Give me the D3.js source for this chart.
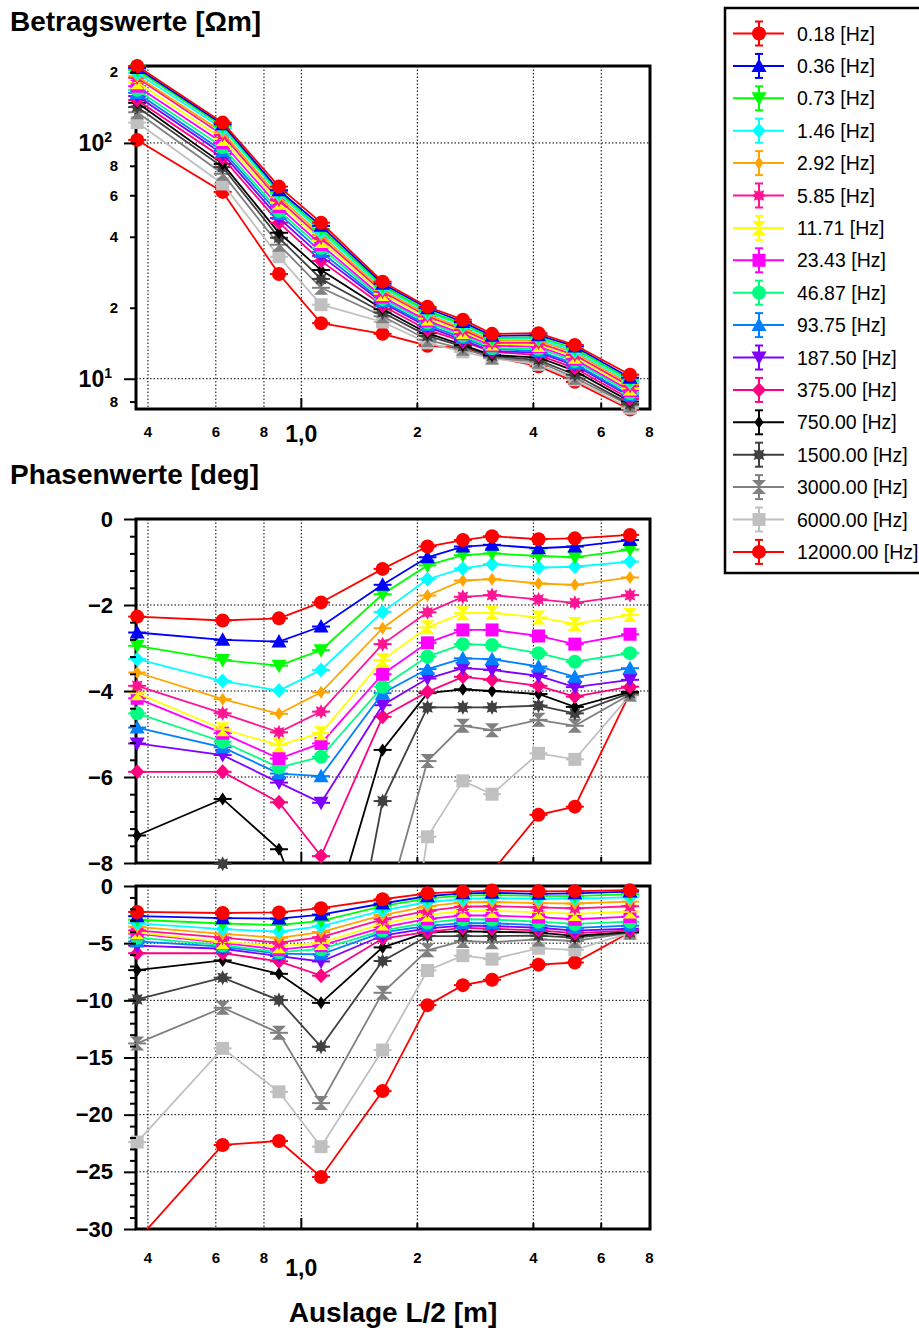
<!DOCTYPE html>
<html>
<head>
<meta charset="utf-8">
<script src="https://cdn.jsdelivr.net/npm/d3@7"></script>
<style>
  body { margin: 0; background: #fff; }
  svg { display: block; }
  text { font-family: Arial, "Liberation Sans", sans-serif; }
</style>
</head>
<body>
<svg id="chart" width="919" height="1331"></svg>
<script>
// Half spread L/2 [m] of each sounding point
const spacing = [0.375, 0.625, 0.875, 1.125, 1.625, 2.125, 2.625, 3.125, 4.125, 5.125, 7.125];

// Frequencies shown in the legend
const frequencies = ["0.18", "0.36", "0.73", "1.46", "2.92", "5.85", "11.71", "23.43", "46.87",
  "93.75", "187.50", "375.00", "750.00", "1500.00", "3000.00", "6000.00", "12000.00"];

// Apparent resistivity magnitude [Ohm m] per frequency
const rho_0_18   = [212, 122, 65.3, 45.9, 25.8, 20.2, 17.8, 15.5, 15.6, 13.9, 10.4];
const rho_0_36   = [208, 120, 63.0, 44.5, 25.3, 19.9, 17.4, 15.2, 15.3, 13.7, 10.1];
const rho_0_73   = [204, 118, 62.0, 43.2, 24.8, 19.4, 17.1, 14.9, 15.0, 13.4, 9.9];
const rho_1_46   = [198, 115, 60.8, 42.0, 24.3, 19.1, 16.8, 14.8, 14.8, 13.1, 9.7];
const rho_2_92   = [192, 111, 59.0, 40.7, 23.8, 18.7, 16.4, 14.5, 14.5, 12.9, 9.5];
const rho_5_85   = [189, 108, 57.3, 39.6, 23.4, 18.4, 16.1, 14.2, 14.2, 12.6, 9.3];
const rho_11_71  = [181, 104, 55.7, 38.4, 22.9, 18.0, 15.8, 14.1, 13.9, 12.4, 9.1];
const rho_23_43  = [174, 100, 53.6, 37.0, 22.2, 17.6, 15.5, 13.8, 13.7, 12.1, 8.9];
const rho_46_87  = [168, 96, 51.5, 35.9, 21.8, 17.3, 15.2, 13.5, 13.4, 11.9, 8.7];
const rho_93_75  = [163, 92.5, 50.0, 34.5, 21.3, 16.9, 14.9, 13.4, 13.1, 11.6, 8.5];
const rho_187_5  = [158, 89.8, 48.0, 33.2, 21.0, 16.6, 14.6, 13.1, 12.9, 11.4, 8.4];
const rho_375    = [152, 86.4, 45.9, 31.6, 20.4, 16.1, 14.4, 13.0, 12.6, 11.1, 8.2];
const rho_750    = [148, 81.5, 41.6, 28.9, 19.7, 15.6, 13.9, 12.6, 12.3, 10.8, 8.0];
const rho_1500   = [142, 79, 39.6, 26.5, 19.1, 15.2, 13.7, 12.5, 12.0, 10.4, 7.8];
const rho_3000   = [135, 74, 37.0, 24.3, 18.4, 14.6, 13.4, 12.3, 11.8, 10.1, 7.7];
const rho_6000   = [122, 67, 32.9, 20.6, 17.4, 14.2, 13.0, 12.2, 11.5, 9.9, 7.5];
const rho_12000  = [103, 62, 27.8, 17.2, 15.5, 13.8, 13.5, 12.4, 11.3, 9.7, 7.4];

// Phase [deg] per frequency
const phi_0_18   = [-2.27, -2.36, -2.31, -1.94, -1.16, -0.64, -0.49, -0.40, -0.47, -0.45, -0.37];
const phi_0_36   = [-2.64, -2.81, -2.85, -2.50, -1.53, -0.89, -0.64, -0.60, -0.68, -0.64, -0.49];
const phi_0_73   = [-2.95, -3.28, -3.41, -3.05, -1.75, -1.08, -0.84, -0.80, -0.86, -0.89, -0.71];
const phi_1_46   = [-3.26, -3.77, -3.99, -3.51, -2.16, -1.40, -1.15, -1.05, -1.13, -1.11, -0.99];
const phi_2_92   = [-3.57, -4.19, -4.53, -4.03, -2.54, -1.78, -1.43, -1.40, -1.50, -1.53, -1.36];
const phi_5_85   = [-3.88, -4.52, -4.96, -4.48, -2.91, -2.17, -1.81, -1.77, -1.87, -1.95, -1.77];
const phi_11_71  = [-4.05, -4.89, -5.26, -4.98, -3.28, -2.52, -2.19, -2.18, -2.29, -2.44, -2.23];
const phi_23_43  = [-4.17, -4.98, -5.57, -5.22, -3.61, -2.88, -2.58, -2.58, -2.72, -2.91, -2.68];
const phi_46_87  = [-4.52, -5.18, -5.78, -5.53, -3.90, -3.20, -2.91, -2.93, -3.12, -3.32, -3.12];
const phi_93_75  = [-4.85, -5.31, -5.92, -5.98, -4.05, -3.49, -3.24, -3.26, -3.43, -3.67, -3.47];
const phi_187_5  = [-5.22, -5.49, -6.13, -6.60, -4.33, -3.71, -3.47, -3.51, -3.65, -3.91, -3.74];
const phi_375    = [-5.88, -5.88, -6.59, -7.84, -4.60, -4.02, -3.67, -3.74, -3.88, -4.13, -3.90];
const phi_750    = [-7.36, -6.51, -7.68, -10.22, -5.37, -4.05, -3.96, -4.00, -4.07, -4.37, -4.02];
const phi_1500   = [-9.92, -8.02, -9.98, -14.06, -6.56, -4.38, -4.38, -4.38, -4.34, -4.52, -4.05];
const phi_3000   = [-13.77, -10.65, -12.84, -18.99, -9.34, -5.63, -4.81, -4.91, -4.67, -4.81, -4.08];
const phi_6000   = [-22.4, -14.2, -18.0, -22.8, -14.35, -7.39, -6.09, -6.40, -5.45, -5.59, -4.10];
const phi_12000  = [-31.0, -22.65, -22.3, -25.45, -17.94, -10.42, -8.67, -8.2, -6.88, -6.69, -4.05];

// Axis ticks and their labels
const xTickValues = [0.4, 0.6, 0.8, 1, 2, 4, 6, 8];
const xTickLabels = ["4", "6", "8", "1,0", "2", "4", "6", "8"];
const xGridValues = [0.4, 0.6, 0.8, 1, 2, 4, 6];
const rhoMajorTicks = [10, 100];
const rhoMinorTicks = [8, 20, 40, 60, 80, 200];
const rhoMinorLabels = ["8", "2", "4", "6", "8", "2"];
const phiZoomTicks = [0, -2, -4, -6, -8];
const phiFullTicks = [0, -5, -10, -15, -20, -25, -30];

const rhoSeries = [rho_0_18, rho_0_36, rho_0_73, rho_1_46, rho_2_92, rho_5_85, rho_11_71, rho_23_43,
  rho_46_87, rho_93_75, rho_187_5, rho_375, rho_750, rho_1500, rho_3000, rho_6000, rho_12000];
const phiSeries = [phi_0_18, phi_0_36, phi_0_73, phi_1_46, phi_2_92, phi_5_85, phi_11_71, phi_23_43,
  phi_46_87, phi_93_75, phi_187_5, phi_375, phi_750, phi_1500, phi_3000, phi_6000, phi_12000];

const colors = ["#FF0000", "#0000FF", "#00FF00", "#00FFFF", "#FFA500", "#FF1493", "#FFFF00", "#FF00FF",
  "#00FF80", "#0080FF", "#8000FF", "#FF0080", "#000000", "#404040", "#808080", "#C0C0C0", "#FF0000"];
const shapes = ["circle", "triUp", "triDown", "diamond", "smallDiamond", "star", "hourglass", "square",
  "circle", "triUp", "triDown", "diamond", "smallDiamond", "star", "hourglass", "square", "circle"];

// ---------------------------------------------------------------------------
const svg = d3.select("#chart");
const X0 = 136, X1 = 650;
const x = d3.scaleLog().domain([0.3724, 8.03]).range([X0, X1]);

function markerPath(shape) {
  switch (shape) {
    case "circle": return "M7,0A7,7 0 1 1 -7,0A7,7 0 1 1 7,0Z";
    case "triUp": return "M0,-7.5L7.5,6L-7.5,6Z";
    case "triDown": return "M0,7.5L7.5,-6L-7.5,-6Z";
    case "diamond": return "M0,-7.5L7,0L0,7.5L-7,0Z";
    case "smallDiamond": return "M0,-6.5L4.5,0L0,6.5L-4.5,0Z";
    case "square": return "M-6.5,-6.5H6.5V6.5H-6.5Z";
    case "hourglass": return "M-7,-7H7L0,0L7,7H-7L0,0Z";
    case "star": {
      const pts = d3.range(16).map(i => {
        const a = i * Math.PI / 8 - Math.PI / 2;
        const r = i % 2 === 0 ? 7.5 : 4.4;
        return [r * Math.cos(a), r * Math.sin(a)];
      });
      return "M" + pts.map(p => p[0].toFixed(2) + "," + p[1].toFixed(2)).join("L") + "Z";
    }
  }
}

function drawPanel(cfg) {
  const { y, top, bottom, hGrid, id } = cfg;
  const g = svg.append("g");

  // dotted grid
  g.selectAll(".vgrid").data(xGridValues).join("line")
    .attr("x1", d => x(d)).attr("x2", d => x(d)).attr("y1", top).attr("y2", bottom)
    .attr("stroke", "#000").attr("stroke-width", 1).attr("stroke-dasharray", "1.5,2");
  g.selectAll(".hgrid").data(hGrid).join("line")
    .attr("x1", X0).attr("x2", X1).attr("y1", d => y(d)).attr("y2", d => y(d))
    .attr("stroke", "#000").attr("stroke-width", 1).attr("stroke-dasharray", "1.5,2");

  // inward ticks on the bottom axis
  g.selectAll(".xtick").data([1, 2, 4, 6]).join("line")
    .attr("x1", d => x(d)).attr("x2", d => x(d)).attr("y1", bottom)
    .attr("y2", d => bottom - (d === 1 ? 11 : 6))
    .attr("stroke", "#000").attr("stroke-width", 2);

  // frame
  g.append("rect").attr("x", X0).attr("y", top).attr("width", X1 - X0).attr("height", bottom - top)
    .attr("fill", "none").attr("stroke", "#000").attr("stroke-width", 3);

  // clip for the lines
  svg.append("clipPath").attr("id", id).append("rect")
    .attr("x", X0 - 20).attr("y", top).attr("width", X1 - X0 + 40).attr("height", bottom - top);

  const line = d3.line().x(d => x(d[0])).y(d => y(d[1]));
  const data = cfg.series;
  const seriesG = g.append("g");
  // lower frequencies are painted last so they sit on top
  for (let i = data.length - 1; i >= 0; i--) {
    const pts = spacing.map((s, k) => [s, data[i][k]]);
    const sg = seriesG.append("g");
    sg.append("path").attr("d", line(pts)).attr("fill", "none")
      .attr("stroke", colors[i]).attr("stroke-width", 1.8).attr("clip-path", `url(#${id})`);
    const vis = pts.filter(p => y(p[1]) >= top - 4 && y(p[1]) <= bottom + 4);
    const mg = sg.selectAll("g.m").data(vis).join("g")
      .attr("transform", p => `translate(${x(p[0])},${y(p[1])})`);
    mg.append("line").attr("x1", -9).attr("x2", 9).attr("stroke", colors[i]).attr("stroke-width", 2);
    mg.append("path").attr("d", markerPath(shapes[i])).attr("fill", colors[i]);
  }
  return g;
}

function styleAxis(a, size) {
  a.select(".domain").remove();
  a.selectAll(".tick line").attr("stroke", "#000").attr("stroke-width", 2);
  a.selectAll(".tick text").attr("fill", "#000").attr("font-weight", "bold").attr("font-size", size);
}

// ---------------- resistivity panel ----------------
const yRho = d3.scaleLog().domain([7.44, 212]).range([409, 66]);
drawPanel({ y: yRho, top: 66, bottom: 409, hGrid: [10, 100], id: "clipRho", series: rhoSeries });

const rhoMajor = svg.append("g").attr("transform", `translate(${X0},0)`)
  .call(d3.axisLeft(yRho).tickValues(rhoMajorTicks).tickSize(12).tickPadding(12).tickFormat(() => ""));
styleAxis(rhoMajor, 23);
rhoMajor.selectAll(".tick text").each(function (d) {
  const t = d3.select(this);
  t.append("tspan").text("10");
  t.append("tspan").attr("dy", -9).attr("font-size", 14).text(Math.round(Math.log10(d)));
});
const rhoMinor = svg.append("g").attr("transform", `translate(${X0},0)`)
  .call(d3.axisLeft(yRho).tickValues(rhoMinorTicks).tickSize(6).tickPadding(12)
    .tickFormat((d, i) => rhoMinorLabels[i]));
styleAxis(rhoMinor, 15);

function xLabels(baseSmall, baseBig) {
  svg.append("g").selectAll("text").data(xTickValues).join("text")
    .attr("x", d => x(d)).attr("y", (d, i) => xTickLabels[i] === "1,0" ? baseBig : baseSmall)
    .attr("text-anchor", "middle").attr("font-weight", "bold")
    .attr("font-size", (d, i) => xTickLabels[i] === "1,0" ? 23 : 15)
    .text((d, i) => xTickLabels[i]);
}
xLabels(437, 442);

// ---------------- phase panel, zoomed ----------------
const yPhiZoom = d3.scaleLinear().domain([-8, 0]).range([863, 519]);
drawPanel({ y: yPhiZoom, top: 519, bottom: 863, hGrid: [-2, -4, -6], id: "clipPhiZoom", series: phiSeries });
const pzMajor = svg.append("g").attr("transform", `translate(${X0},0)`)
  .call(d3.axisLeft(yPhiZoom).tickValues(phiZoomTicks).tickSize(12).tickPadding(11).tickFormat(d3.format("d")));
styleAxis(pzMajor, 22);
const pzMinor = svg.append("g").attr("transform", `translate(${X0},0)`)
  .call(d3.axisLeft(yPhiZoom).tickValues(d3.range(-7.6, 0, 0.4).filter(v => Math.abs(v / 2 - Math.round(v / 2)) > 0.01))
    .tickSize(6).tickFormat(() => ""));
styleAxis(pzMinor, 10);

// ---------------- phase panel, full range ----------------
const yPhiFull = d3.scaleLinear().domain([-30, 0]).range([1229, 886]);
drawPanel({ y: yPhiFull, top: 886, bottom: 1229, hGrid: [-5, -10, -15, -20, -25], id: "clipPhiFull", series: phiSeries });
const pfMajor = svg.append("g").attr("transform", `translate(${X0},0)`)
  .call(d3.axisLeft(yPhiFull).tickValues(phiFullTicks).tickSize(12).tickPadding(11).tickFormat(d3.format("d")));
styleAxis(pfMajor, 22);
const pfMinor = svg.append("g").attr("transform", `translate(${X0},0)`)
  .call(d3.axisLeft(yPhiFull).tickValues(d3.range(-29, 0, 1).filter(v => v % 5 !== 0))
    .tickSize(6).tickFormat(() => ""));
styleAxis(pfMinor, 10);
xLabels(1263, 1276);

// ---------------- titles ----------------
svg.append("text").attr("x", 10).attr("y", 31).attr("font-size", 28).attr("font-weight", "bold")
  .text("Betragswerte [Ωm]");
svg.append("text").attr("x", 10).attr("y", 484).attr("font-size", 28).attr("font-weight", "bold")
  .text("Phasenwerte [deg]");
svg.append("text").attr("x", 393).attr("y", 1322).attr("font-size", 28).attr("font-weight", "bold")
  .attr("text-anchor", "middle").text("Auslage L/2 [m]");

// ---------------- legend ----------------
const legend = svg.append("g");
legend.append("rect").attr("x", 725).attr("y", 8).attr("width", 210).attr("height", 565)
  .attr("fill", "#fff").attr("stroke", "#000").attr("stroke-width", 2.5);
const rowY = i => 33.5 + i * 32.4;
const rows = legend.selectAll("g.row").data(frequencies).join("g")
  .attr("transform", (d, i) => `translate(0,${rowY(i)})`);
rows.append("line").attr("x1", 733).attr("x2", 784).attr("stroke", (d, i) => colors[i]).attr("stroke-width", 2);
rows.append("line").attr("x1", 759).attr("x2", 759).attr("y1", -12).attr("y2", 12)
  .attr("stroke", (d, i) => colors[i]).attr("stroke-width", 2);
rows.append("line").attr("x1", 755).attr("x2", 763).attr("y1", -12).attr("y2", -12)
  .attr("stroke", (d, i) => colors[i]).attr("stroke-width", 2);
rows.append("line").attr("x1", 755).attr("x2", 763).attr("y1", 12).attr("y2", 12)
  .attr("stroke", (d, i) => colors[i]).attr("stroke-width", 2);
rows.append("path").attr("transform", "translate(759,0)").attr("d", (d, i) => markerPath(shapes[i]))
  .attr("fill", (d, i) => colors[i]);
rows.append("text").attr("x", 797).attr("y", 7).attr("font-size", 19.5).attr("fill", "#000")
  .text(d => `${d} [Hz]`);
</script>
</body>
</html>
